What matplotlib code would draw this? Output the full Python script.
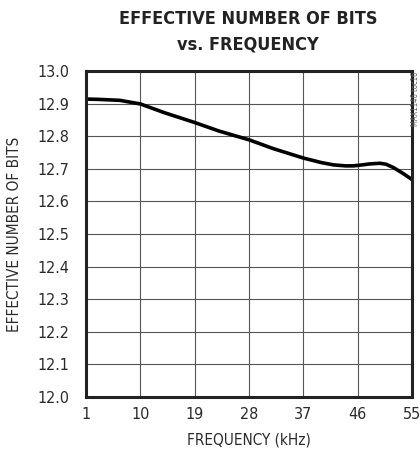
import matplotlib
matplotlib.use("Agg")
import matplotlib.pyplot as plt

# curve
freq = [1, 3, 6.6, 10, 14, 19, 23, 26.5, 28, 32, 37, 40, 42, 44, 45.3, 46.3, 48, 49.7, 50.7, 51.9, 53.5, 55]
enob = [12.914, 12.913, 12.910, 12.899, 12.872, 12.842, 12.816, 12.797, 12.789, 12.762, 12.733,
        12.719, 12.712, 12.709, 12.709, 12.711, 12.715, 12.717, 12.714, 12.704, 12.686, 12.667]

xticks = [1, 10, 19, 28, 37, 46, 55]
yticks = [12.0, 12.1, 12.2, 12.3, 12.4, 12.5, 12.6, 12.7, 12.8, 12.9, 13.0]

plt.rcParams['font.family'] = ['DejaVu Sans']
plt.rcParams['font.stretch'] = 'condensed'

ink = '#222222'

fig = plt.figure(figsize=(4.2, 4.58), dpi=100)
ax = fig.add_axes([86 / 420, 1 - 397 / 458, 326 / 420, 326 / 458])

ax.plot(freq, enob, color='black', linewidth=2.6, solid_capstyle='butt', solid_joinstyle='round')

ax.set_xlim(1, 55)
ax.set_ylim(12.0, 13.0)
ax.set_xticks(xticks)
ax.set_xticklabels([str(x) for x in xticks])
ax.set_yticks(yticks)
ax.set_yticklabels([f'{y:.1f}' for y in yticks])
ax.tick_params(length=0, labelsize=11.5, colors='#2a2a2a')
ax.tick_params(axis='x', pad=7)
ax.tick_params(axis='y', pad=12)
ax.grid(True, color='#555555', linewidth=0.8)
for s in ax.spines.values():
    s.set_linewidth(2.2)
    s.set_color(ink)

ax.set_xlabel('FREQUENCY (kHz)', fontsize=11, color='#2a2a2a', labelpad=8)
ax.set_ylabel('EFFECTIVE NUMBER OF BITS', fontsize=11, color='#2a2a2a', labelpad=11)

fig.text(248 / 420, 1 - 19 / 458, 'EFFECTIVE NUMBER OF BITS', ha='center', va='center',
         fontsize=13, fontweight='bold', color=ink)
fig.text(248 / 420, 1 - 44 / 458, 'vs. FREQUENCY', ha='center', va='center',
         fontsize=13, fontweight='bold', color=ink)
fig.text(416 / 420, 1 - 72 / 458, 'MAX1146 toc16', rotation=90, ha='center', va='top',
         fontsize=5.5, color='#666666')

fig.savefig('out.png', dpi=100)
